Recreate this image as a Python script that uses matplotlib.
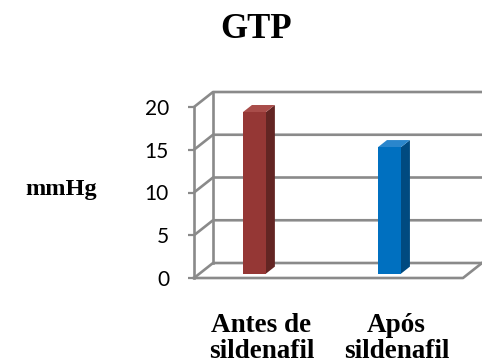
import numpy as np
import matplotlib.pyplot as plt
from matplotlib.patches import Polygon

# GTP before / after sildenafil
categories = ['Antes de\nsildenafil', 'Após\nsildenafil']
values = [18.9, 14.8]
yticks = [0, 5, 10, 15, 20]

front_colors = ['#953735', '#0070c0']
side_colors = ['#632523', '#004a80']
top_colors = ['#a94d4a', '#2a86cc']

grid_color = '#8a8a8a'
serif = ['Liberation Serif', 'DejaVu Serif']

fig = plt.figure(figsize=(4.82, 3.63), dpi=100)
ax = fig.add_axes([194 / 482, 1 - 278 / 363, (463 - 194) / 482, (278 - 107) / 363])

x0, x1 = -0.407, 1.585
ax.set_xlim(x0, x1)
ax.set_ylim(0, 20)

# depth of the 3d box in data units
DX = 19 / 135
DY = 1.754
# bars sit partway back on the floor
bar_f0, bar_f1 = 0.29, 0.76
bar_w = 0.17

# back wall gridlines + side wall diagonals
for y in yticks:
    ax.plot([x0, x0 + DX, x1 + DX], [y, y + DY, y + DY], color=grid_color,
            lw=1.9, clip_on=False, zorder=1, solid_capstyle='butt')
ax.plot([x0 + DX, x0 + DX], [DY, 20 + DY], color=grid_color, lw=1.9, clip_on=False, zorder=1)
# floor front edge and right edge
ax.plot([x0, x1, x1 + DX], [0, 0, DY], color=grid_color, lw=1.9, clip_on=False, zorder=1)

for i, v in enumerate(values):
    ox0, oy0 = DX * bar_f0, DY * bar_f0
    ox1, oy1 = DX * bar_f1, DY * bar_f1
    l, r = i - bar_w / 2 + ox0, i + bar_w / 2 + ox0
    front = [(l, oy0), (r, oy0), (r, v + oy0), (l, v + oy0)]
    side = [(r, oy0), (r - ox0 + ox1, oy1), (r - ox0 + ox1, v + oy1), (r, v + oy0)]
    top = [(l, v + oy0), (r, v + oy0), (r - ox0 + ox1, v + oy1), (l - ox0 + ox1, v + oy1)]
    ax.add_patch(Polygon(side, closed=True, fc=side_colors[i], ec='none', zorder=3, clip_on=False))
    ax.add_patch(Polygon(top, closed=True, fc=top_colors[i], ec='none', zorder=3, clip_on=False))
    ax.add_patch(Polygon(front, closed=True, fc=front_colors[i], ec='none', zorder=4, clip_on=False))
    ax.annotate(categories[i], xy=(i, 0), xytext=(9, -25), textcoords='offset points',
                ha='center', va='top', fontsize=19.5, fontweight='bold',
                family=serif, linespacing=1.05, annotation_clip=False)

for s in ['top', 'right', 'bottom']:
    ax.spines[s].set_visible(False)
ax.spines['left'].set_color(grid_color)
ax.spines['left'].set_linewidth(1.9)
ax.set_xticks([])
ax.set_yticks(yticks)
ax.tick_params(axis='y', colors=grid_color, length=4, width=1.6, pad=14,
               labelcolor='black', labelsize=15)
for t in ax.get_yticklabels():
    t.set_family(['Lato', 'DejaVu Sans'])
ax.patch.set_visible(False)

fig.text(256 / 482, 1 - 30 / 363, 'GTP', ha='center', va='center',
         fontsize=25, fontweight='bold', family=serif)
fig.text(61 / 482, 1 - 190 / 363, 'mmHg', ha='center', va='center',
         fontsize=17.5, fontweight='bold', family=serif)

fig.savefig('out.png', dpi=100)
